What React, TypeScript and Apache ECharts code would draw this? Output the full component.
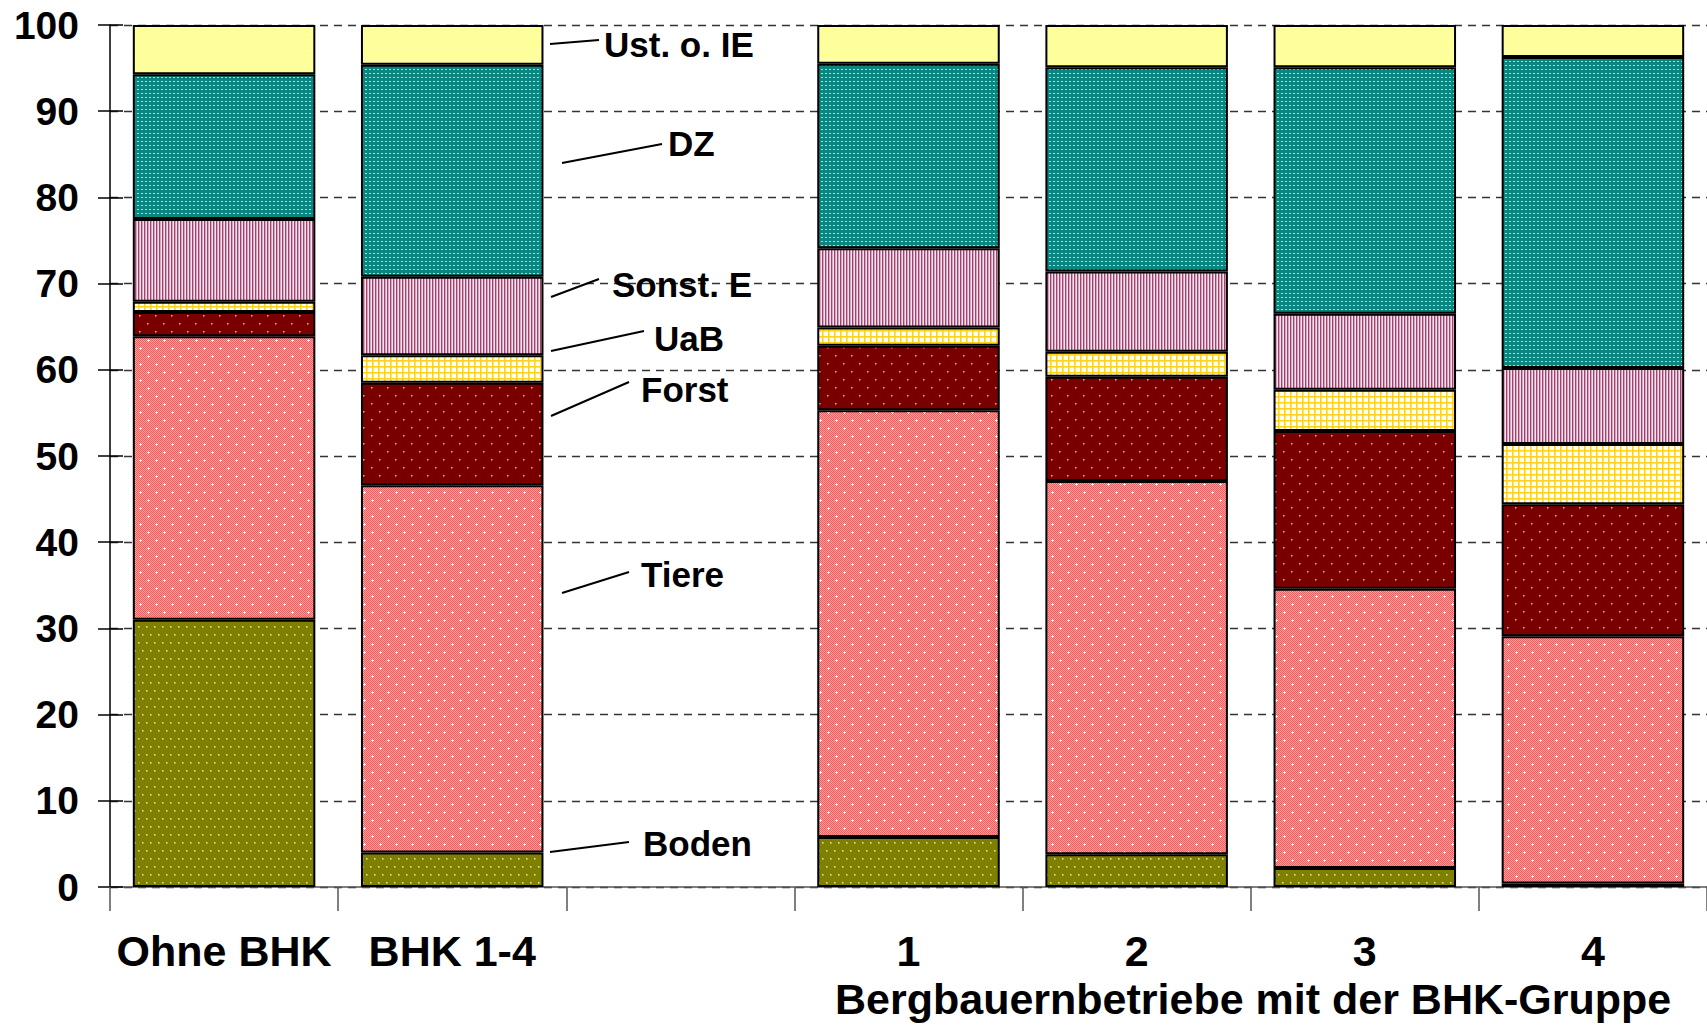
import React, { useEffect, useRef } from "react";
import * as echarts from "echarts";

const categories = ["Ohne BHK", "BHK 1-4", "", "1", "2", "3", "4"];
const seriesNames = ["Boden", "Tiere", "Forst", "UaB", "Sonst. E", "DZ", "Ust. o. IE"];
const boden = [31.0, 4.0, null, 5.8, 3.8, 2.2, 0.4];
const tiere = [32.9, 42.6, null, 49.5, 43.3, 32.4, 28.7];
const forst = [2.8, 11.9, null, 7.5, 12.1, 18.3, 15.3];
const uab = [1.2, 3.2, null, 2.1, 2.9, 4.8, 7.0];
const sonstE = [9.6, 9.1, null, 9.2, 9.3, 8.8, 8.8];
const dz = [16.8, 24.6, null, 21.4, 23.7, 28.6, 36.1];
const ust = [5.7, 4.6, null, 4.5, 4.9, 4.9, 3.7];
const yTicks = [0, 10, 20, 30, 40, 50, 60, 70, 80, 90, 100];
const groupTitle = "Bergbauernbetriebe mit der BHK-Gruppe";

const FONT = '"Liberation Sans", Arial, sans-serif';

function makePattern(w: number, h: number, draw: (ctx: CanvasRenderingContext2D) => void) {
  const c = document.createElement("canvas");
  c.width = w;
  c.height = h;
  const ctx = c.getContext("2d") as CanvasRenderingContext2D;
  draw(ctx);
  return { image: c.toDataURL(), repeat: "repeat", imageWidth: w, imageHeight: h };
}

function dotLattice(bg: string, dot: string, pts: number[][], w: number, h: number, size = 1) {
  return makePattern(w, h, (ctx) => {
    ctx.fillStyle = bg;
    ctx.fillRect(0, 0, w, h);
    ctx.fillStyle = dot;
    pts.forEach(([x, y]) => ctx.fillRect(x, y, size, size));
  });
}

export default function App() {
  const ref = useRef<HTMLDivElement>(null);
  useEffect(() => {
    if (!ref.current) return;
    const chart = echarts.init(ref.current, undefined, { renderer: "svg" });

    const pBoden = dotLattice("#808000", "#e8e8c0", [[2, 2], [10, 2], [6, 10], [14, 10]], 16, 16, 1.5);
    const pTiere = makePattern(16, 16, (ctx) => {
      for (let y = 0; y < 16; y++)
        for (let x = 0; x < 16; x++) {
          ctx.fillStyle = (x + y) % 2 === 0 ? "#ff5858" : "#ffa4a4";
          ctx.fillRect(x, y, 1, 1);
        }
      ctx.fillStyle = "#ffffff";
      [[4, 4], [12, 12]].forEach(([x, y]) => {
        ctx.fillRect(x - 1, y, 3, 1);
        ctx.fillRect(x, y - 1, 1, 3);
      });
    });
    const pForst = dotLattice("#7a0000", "#e0b0b0", [[3, 3], [11, 11]], 16, 16, 1.5);
    const pUaB = makePattern(6, 6, (ctx) => {
      ctx.fillStyle = "#fffff4";
      ctx.fillRect(0, 0, 6, 6);
      ctx.fillStyle = "#ffd21a";
      ctx.fillRect(0, 0, 6, 1.6);
      ctx.fillRect(0, 0, 1.6, 6);
    });
    const pSonst = makePattern(3, 4, (ctx) => {
      ctx.fillStyle = "#a2426f";
      ctx.fillRect(0, 0, 1, 4);
      ctx.fillStyle = "#d9a3bd";
      ctx.fillRect(1, 0, 1, 4);
      ctx.fillStyle = "#f6e3ec";
      ctx.fillRect(2, 0, 1, 4);
    });
    const pDZ = dotLattice("#0c8681", "#a8dcd8", [[1, 1], [2, 1]], 4, 4, 1);
    const pUst = dotLattice("#ffff99", "#ffffe8", [[2, 2], [10, 2], [6, 10], [14, 10]], 16, 16, 1.5);

    const datas = [boden, tiere, forst, uab, sonstE, dz, ust];
    const fills = [pBoden, pTiere, pForst, pUaB, pSonst, pDZ, pUst];

    const series = datas.map((d, i) => ({
      name: seriesNames[i],
      type: "bar",
      stack: "total",
      barCategoryGap: "20%",
      data: d.map((v) => (v == null ? "-" : v)),
      itemStyle: { color: fills[i] as any, borderColor: "#000", borderWidth: 2 },
      emphasis: { disabled: true },
    }));

    const labelFont = `bold 35px ${FONT}`;
    const sideLabels = [
      { text: "Ust. o. IE", x: 604, y: 44, l: [550, 44, 599, 40] },
      { text: "DZ", x: 668, y: 143, l: [562, 163, 662, 144] },
      { text: "Sonst. E", x: 612, y: 284, l: [551, 297, 599, 279] },
      { text: "UaB", x: 654, y: 338, l: [551, 351, 644, 331] },
      { text: "Forst", x: 641, y: 389, l: [551, 416, 629, 382] },
      { text: "Tiere", x: 641, y: 574, l: [562, 593, 629, 572] },
      { text: "Boden", x: 643, y: 843, l: [550, 852, 629, 842] },
    ];
    const graphic: any[] = [];
    sideLabels.forEach((s) => {
      graphic.push({
        type: "line",
        shape: { x1: s.l[0], y1: s.l[1], x2: s.l[2], y2: s.l[3] },
        style: { stroke: "#000", lineWidth: 2 },
        z: 100,
      });
      graphic.push({
        type: "text",
        x: s.x,
        y: s.y,
        style: { text: s.text, font: labelFont, fill: "#000", textAlign: "left", textVerticalAlign: "middle", verticalAlign: "middle" },
        z: 100,
      });
    });
    graphic.push({
      type: "text",
      x: 835,
      y: 999,
      style: { text: groupTitle, font: `bold 43px ${FONT}`, fill: "#000", textAlign: "left", textVerticalAlign: "middle", verticalAlign: "middle" },
      z: 100,
    });

    chart.setOption({
      animation: false,
      backgroundColor: "#ffffff",
      grid: { left: 110, top: 25, width: 1600, height: 862, containLabel: false },
      xAxis: {
        type: "category",
        data: categories,
        axisLine: { show: true, lineStyle: { color: "#555", width: 1.5 } },
        axisTick: { show: true, length: 24, interval: 0, lineStyle: { color: "#555", width: 1.5 } },
        axisLabel: {
          interval: 0,
          margin: 42,
          fontSize: 43,
          fontWeight: "bold",
          fontFamily: FONT,
          color: "#000",
        },
        splitLine: { show: false },
      },
      yAxis: [
        {
          type: "value",
          min: yTicks[0],
          max: yTicks[yTicks.length - 1],
          interval: 10,
          axisLine: { show: true, lineStyle: { color: "#000", width: 1.5 } },
          axisTick: { show: true, length: 12, lineStyle: { color: "#000", width: 1.5 } },
          axisLabel: { margin: 31, fontSize: 39, fontWeight: "bold", fontFamily: FONT, color: "#000" },
          splitLine: { show: true, lineStyle: { color: "#333", width: 1.3, type: [8, 6] } },
        },
        {
          type: "value",
          position: "left",
          min: yTicks[0],
          max: yTicks[yTicks.length - 1],
          interval: 10,
          axisLine: { show: false },
          axisTick: { show: true, inside: true, length: 13, lineStyle: { color: "#000", width: 1.5 } },
          axisLabel: { show: false },
          splitLine: { show: false },
        },
      ],
      series,
      graphic,
    });

    return () => chart.dispose();
  }, []);

  return (
    <div
      ref={ref}
      style={{ position: "fixed", left: 0, top: 0, width: 1707, height: 1025, background: "#fff" }}
    />
  );
}
